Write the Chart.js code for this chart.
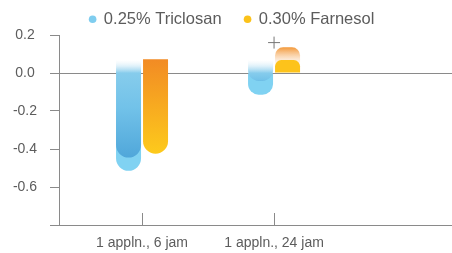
<!DOCTYPE html>
<html>
<head>
<meta charset="utf-8">
<script src="https://cdn.jsdelivr.net/npm/chart.js@4.4.0/dist/chart.umd.min.js"></script>
<style>
  html, body { margin: 0; padding: 0; background: #fff; }
  #wrap { width: 452px; height: 253px; }
</style>
</head>
<body>
<div id="wrap"><canvas id="myChart"></canvas></div>
<script>
const categories = ["1 appln., 6 jam", "1 appln., 24 jam"];
const seriesNames = ["0.25% Triclosan", "0.30% Farnesol"];
// each bar is [start, end]
const triclosanBars = [[0.07, -0.445], [0.07, -0.042]];
const farnesolBars = [[0.073, -0.425], [0, 0.068]];
// lighter caps sitting behind the bar ends
const triclosanCaps = [[-0.2, -0.515], [0, -0.114]];
const farnesolCaps = [null, [0.05, 0.135]];
const markerValues = [null, 0.16];
const yTicks = [0.2, 0.0, -0.2, -0.4, -0.6, -0.8];

const axisGray = "#8a8a8a";
const textGray = "#5c5c5c";
const fontFamily = "'Liberation Sans', Arial, sans-serif";

function toPoints(values) {
  return values.map(function (v, i) {
    return { x: i + 1, y: v };
  });
}

// gradient laid out from the top of the bar to its bottom
function barGradient(c, stopsFor) {
  const chart = c.chart;
  const raw = c.raw;
  if (!chart.chartArea || !raw || !raw.y) return "rgba(0,0,0,0)";
  const hi = Math.max(raw.y[0], raw.y[1]);
  const lo = Math.min(raw.y[0], raw.y[1]);
  const y = chart.scales.y;
  const g = chart.ctx.createLinearGradient(0, y.getPixelForValue(hi), 0, y.getPixelForValue(lo));
  const zero = hi > 0 && lo < 0 ? hi / (hi - lo) : null;
  stopsFor(zero, c.dataIndex).forEach(function (s) {
    g.addColorStop(s[0], s[1]);
  });
  return g;
}

function endRadius(c) {
  const raw = c.raw;
  if (!raw || !raw.y) return 0;
  const r = 13;
  if (raw.y[1] < raw.y[0]) {
    return { topLeft: 0, topRight: 0, bottomLeft: r, bottomRight: r };
  }
  return { topLeft: r, topRight: r, bottomLeft: 0, bottomRight: 0 };
}

const blueStops = function (zero) {
  const z = zero === null ? 0.3 : zero;
  return [[0, "rgba(232,243,250,0)"], [z, "#86ccec"], [Math.min(1, z + 0.35), "#72c2e9"], [1, "#50a7da"]];
};
const orangeStops = function (zero, i) {
  if (i === 1) return [[0, "#fdc31b"], [1, "#fdc31b"]];
  return [[0, "#f28b24"], [1, "#fdca1c"]];
};
const orangeCapStops = function () {
  return [[0, "#f3993a"], [1, "rgba(252,232,212,0.4)"]];
};

const innerTicks = {
  id: "innerTicks",
  afterDatasetsDraw(chart) {
    const xs = chart.scales.x;
    const ctx = chart.ctx;
    const b = chart.chartArea.bottom;
    ctx.save();
    ctx.strokeStyle = axisGray;
    ctx.lineWidth = 1;
    xs.ticks.forEach(function (t, i) {
      const px = Math.round(xs.getPixelForTick(i)) + 0.5;
      ctx.beginPath();
      ctx.moveTo(px, b);
      ctx.lineTo(px, b - 12);
      ctx.stroke();
    });
    ctx.restore();
  }
};

const legendColors = ["#7fcdef", "#fbc21a"];

new Chart(document.getElementById("myChart"), {
  type: "bar",
  data: {
    datasets: [
      {
        label: seriesNames[0],
        data: toPoints(triclosanBars),
        stack: "a",
        backgroundColor: function (c) { return barGradient(c, blueStops); },
        borderRadius: endRadius,
        borderSkipped: false
      },
      {
        label: seriesNames[1],
        data: toPoints(farnesolBars),
        stack: "b",
        backgroundColor: function (c) { return barGradient(c, orangeStops); },
        borderRadius: endRadius,
        borderSkipped: false
      },
      {
        label: "cap a",
        data: toPoints(triclosanCaps),
        stack: "a",
        backgroundColor: "#80d2f2",
        borderRadius: endRadius,
        borderSkipped: false
      },
      {
        label: "cap b",
        data: toPoints(farnesolCaps),
        stack: "b",
        backgroundColor: function (c) { return barGradient(c, orangeCapStops); },
        borderRadius: endRadius,
        borderSkipped: false
      },
      {
        type: "line",
        label: "marker",
        data: toPoints(markerValues),
        showLine: false,
        pointStyle: "cross",
        pointRadius: 6,
        pointBorderWidth: 1,
        pointBorderColor: "#777",
        borderColor: "#777"
      }
    ]
  },
  options: {
    responsive: true,
    maintainAspectRatio: false,
    animation: false,
    categoryPercentage: 54 / 132,
    barPercentage: 25 / 27,
    layout: { autoPadding: false, padding: { top: -12, left: 12, right: 0, bottom: -8 } },
    plugins: {
      tooltip: { enabled: false },
      legend: {
        position: "top",
        align: "center",
        maxHeight: 47,
        labels: {
          usePointStyle: true,
          boxWidth: 6,
          boxHeight: 5.4,
          padding: 23,
          color: textGray,
          font: { family: fontFamily, size: 16.5 },
          generateLabels: function () {
            return seriesNames.map(function (name, i) {
              return {
                text: name,
                fillStyle: legendColors[i],
                strokeStyle: legendColors[i],
                lineWidth: 0,
                pointStyle: "circle",
                hidden: false,
                datasetIndex: i,
                fontColor: textGray
              };
            });
          }
        }
      }
    },
    scales: {
      x: {
        type: "linear",
        offset: false,
        min: 0.371,
        max: 3.348,
        stacked: true,
        afterBuildTicks: function (s) {
          s.ticks = categories.map(function (c, i) { return { value: i + 1 }; });
        },
        ticks: {
          callback: function (v) { return categories[v - 1] || ""; },
          color: textGray,
          font: { family: fontFamily, size: 14 },
          padding: 9.6,
          maxRotation: 0,
          autoSkip: false
        },
        grid: { display: true, offset: false, drawOnChartArea: false, drawTicks: false },
        border: { color: axisGray, width: 1 }
      },
      y: {
        min: -0.8,
        max: 0.2,
        stacked: false,
        z: 1,
        afterBuildTicks: function (s) {
          s.ticks = yTicks.map(function (v) { return { value: v }; });
        },
        afterFit: function (s) {
          s.width = 47;
        },
        ticks: {
          callback: function (v) { return v === -0.8 ? "" : v.toFixed(1); },
          crossAlign: "center",
          padding: 13,
          color: textGray,
          font: { family: fontFamily, size: 14 }
        },
        grid: {
          color: function (c) { return c.tick && c.tick.value === 0 ? axisGray : "rgba(0,0,0,0)"; },
          tickColor: axisGray,
          tickLength: 9,
          lineWidth: 1
        },
        border: { color: axisGray, width: 1 }
      }
    }
  },
  plugins: [innerTicks]
});
</script>
</body>
</html>
